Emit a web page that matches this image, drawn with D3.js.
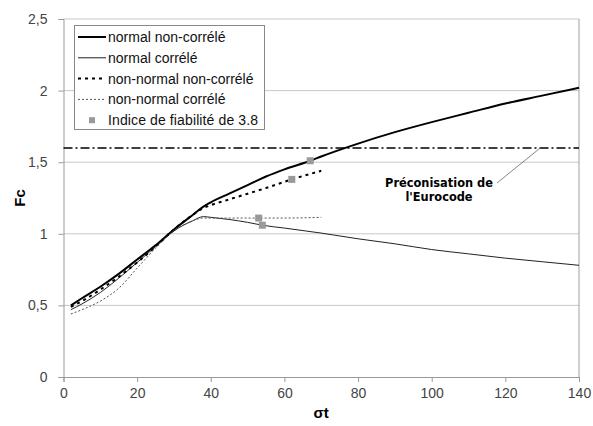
<!DOCTYPE html>
<html>
<head>
<meta charset="utf-8">
<script src="https://cdn.jsdelivr.net/npm/d3@7"></script>
<style>
  body { margin: 0; background: #fff; }
  svg { display: block; font-family: "Liberation Sans", Arial, sans-serif; }
</style>
</head>
<body>
<div class="canvas"></div>
<script>
/**
 * Data
 */
const normalNonCorrele = [
  [2, 0.50], [5, 0.55], [10, 0.63], [15, 0.72], [20, 0.82], [25, 0.92], [30, 1.03],
  [35, 1.13], [38, 1.19], [40, 1.22], [45, 1.28], [50, 1.34], [55, 1.40], [60, 1.45],
  [67, 1.51], [70, 1.54], [80, 1.63], [90, 1.71], [100, 1.78], [110, 1.845],
  [120, 1.91], [130, 1.965], [140, 2.02]
]
const normalCorrele = [
  [2, 0.47], [5, 0.51], [10, 0.59], [15, 0.69], [20, 0.80], [25, 0.91], [30, 1.02],
  [35, 1.09], [38, 1.12], [40, 1.115], [45, 1.10], [50, 1.08], [54, 1.06], [60, 1.04],
  [70, 1.005], [80, 0.965], [90, 0.93], [100, 0.89], [110, 0.86], [120, 0.83],
  [130, 0.805], [140, 0.78]
]
const nonNormalNonCorrele = [
  [2, 0.49], [5, 0.53], [10, 0.61], [15, 0.70], [20, 0.80], [25, 0.91], [30, 1.03],
  [35, 1.13], [38, 1.18], [40, 1.20], [45, 1.24], [50, 1.28], [55, 1.32], [62, 1.38],
  [70, 1.44]
]
const nonNormalCorrele = [
  [2, 0.44], [5, 0.47], [10, 0.53], [15, 0.62], [20, 0.76], [25, 0.90], [30, 1.02],
  [35, 1.09], [38, 1.11], [45, 1.11], [53, 1.11], [60, 1.11], [70, 1.115]
]
const fiabilite = [[67, 1.51], [62, 1.38], [53, 1.11], [54, 1.06]]
const eurocode = 1.6

const xTicks = [0, 20, 40, 60, 80, 100, 120, 140]
const yTicks = [0, 0.5, 1, 1.5, 2, 2.5]

/**
 * Dimension setup
 */
const dims = { width: 593, height: 426 }
const margin = { left: 63.5, top: 19, right: 14, bottom: 49 }

const svg = d3.select(".canvas")
    .append("svg")
    .attr("width", dims.width)
    .attr("height", dims.height)

const x = d3.scaleLinear().domain([0, 140]).range([margin.left, dims.width - margin.right])
const y = d3.scaleLinear().domain([0, 2.5]).range([dims.height - margin.bottom, margin.top])

// gridlines
svg.append("g")
    .selectAll("line")
    .data(yTicks.filter(d => d > 0))
    .join("line")
    .attr("x1", x(0)).attr("x2", x(140))
    .attr("y1", d => y(d)).attr("y2", d => y(d))
    .attr("stroke", "#c8c8c8")

// right border
svg.append("line")
    .attr("x1", x(140)).attr("x2", x(140))
    .attr("y1", y(2.5)).attr("y2", y(0))
    .attr("stroke", "#a0a0a0")

// axes
const fmt = d => String(d).replace(".", ",")
const xAxis = svg.append("g")
    .attr("transform", `translate(0,${y(0)})`)
    .call(d3.axisBottom(x).tickValues(xTicks).tickSize(5).tickPadding(6).tickFormat(fmt))
const yAxis = svg.append("g")
    .attr("transform", `translate(${x(0)},0)`)
    .call(d3.axisLeft(y).tickValues(yTicks).tickSize(5).tickPadding(11).tickFormat(fmt))

for (const ax of [xAxis, yAxis]) {
  ax.select(".domain").attr("stroke", "#999")
  ax.selectAll(".tick line").attr("stroke", "#999")
  ax.selectAll("text")
      .attr("font-size", 14)
      .attr("font-family", "Liberation Sans, Arial, sans-serif")
      .attr("fill", "#444")
}

// axis titles
svg.append("text")
    .attr("x", (x(0) + x(140)) / 2).attr("y", 418)
    .attr("text-anchor", "middle")
    .attr("font-weight", "bold").attr("font-size", 15)
    .text("σt")
svg.append("text")
    .attr("transform", `translate(25,${(y(0) + y(2.5)) / 2}) rotate(-90)`)
    .attr("text-anchor", "middle")
    .attr("font-weight", "bold").attr("font-size", 15)
    .text("Fc")

// eurocode reference line
svg.append("line")
    .attr("x1", x(0)).attr("x2", x(140))
    .attr("y1", y(eurocode)).attr("y2", y(eurocode))
    .attr("stroke", "#000").attr("stroke-width", 1.5)
    .attr("stroke-dasharray", "9,3,2,3")

/**
 * Series
 */
const line = d3.line().x(d => x(d[0])).y(d => y(d[1])).curve(d3.curveMonotoneX)

const series = [
  { name: "normal non-corrélé", data: normalNonCorrele, width: 2, dash: null, color: "#000" },
  { name: "normal corrélé", data: normalCorrele, width: 1, dash: null, color: "#222" },
  { name: "non-normal non-corrélé", data: nonNormalNonCorrele, width: 2, dash: "3,4", color: "#000" },
  { name: "non-normal corrélé", data: nonNormalCorrele, width: 1, dash: "2,2", color: "#555" }
]

svg.append("g")
    .selectAll("path")
    .data(series)
    .join("path")
    .attr("d", d => line(d.data))
    .attr("fill", "none")
    .attr("stroke", d => d.color)
    .attr("stroke-width", d => d.width)
    .attr("stroke-dasharray", d => d.dash)

svg.append("g")
    .selectAll("rect")
    .data(fiabilite)
    .join("rect")
    .attr("x", d => x(d[0]) - 3.5).attr("y", d => y(d[1]) - 3.5)
    .attr("width", 7).attr("height", 7)
    .attr("fill", "#999")

// annotation
svg.append("line")
    .attr("x1", 497).attr("y1", 183)
    .attr("x2", x(129.5)).attr("y2", y(eurocode))
    .attr("stroke", "#666").attr("stroke-width", 0.8)
const note = svg.append("text")
    .attr("text-anchor", "middle")
    .attr("font-family", "DejaVu Sans, Verdana, sans-serif")
    .attr("font-weight", "bold").attr("font-size", 11.4)
note.append("tspan").attr("x", 439).attr("y", 187).text("Préconisation de")
note.append("tspan").attr("x", 439).attr("y", 201).text("l'Eurocode")

/**
 * Legend
 */
const legend = svg.append("g")
legend.append("rect")
    .attr("x", 74.5).attr("y", 25.5)
    .attr("width", 190).attr("height", 104)
    .attr("fill", "#fff").attr("stroke", "#888")

const items = legend.selectAll("g.item")
    .data([...series, { name: "Indice de fiabilité de 3.8", marker: true }])
    .join("g")
    .attr("class", "item")
    .attr("transform", (d, i) => `translate(0,${37 + i * 20.8})`)

items.filter(d => !d.marker).append("line")
    .attr("x1", 78).attr("x2", 106)
    .attr("stroke", d => d.color)
    .attr("stroke-width", d => d.width)
    .attr("stroke-dasharray", d => d.dash)
items.filter(d => d.marker).append("rect")
    .attr("x", 89).attr("y", -3).attr("width", 6).attr("height", 6)
    .attr("fill", "#999")
items.append("text")
    .attr("x", 108).attr("y", 5)
    .attr("font-size", 14)
    .attr("fill", "#111")
    .attr("textLength", d => d.marker ? 150 : null)
    .text(d => d.name)
</script>
</body>
</html>
